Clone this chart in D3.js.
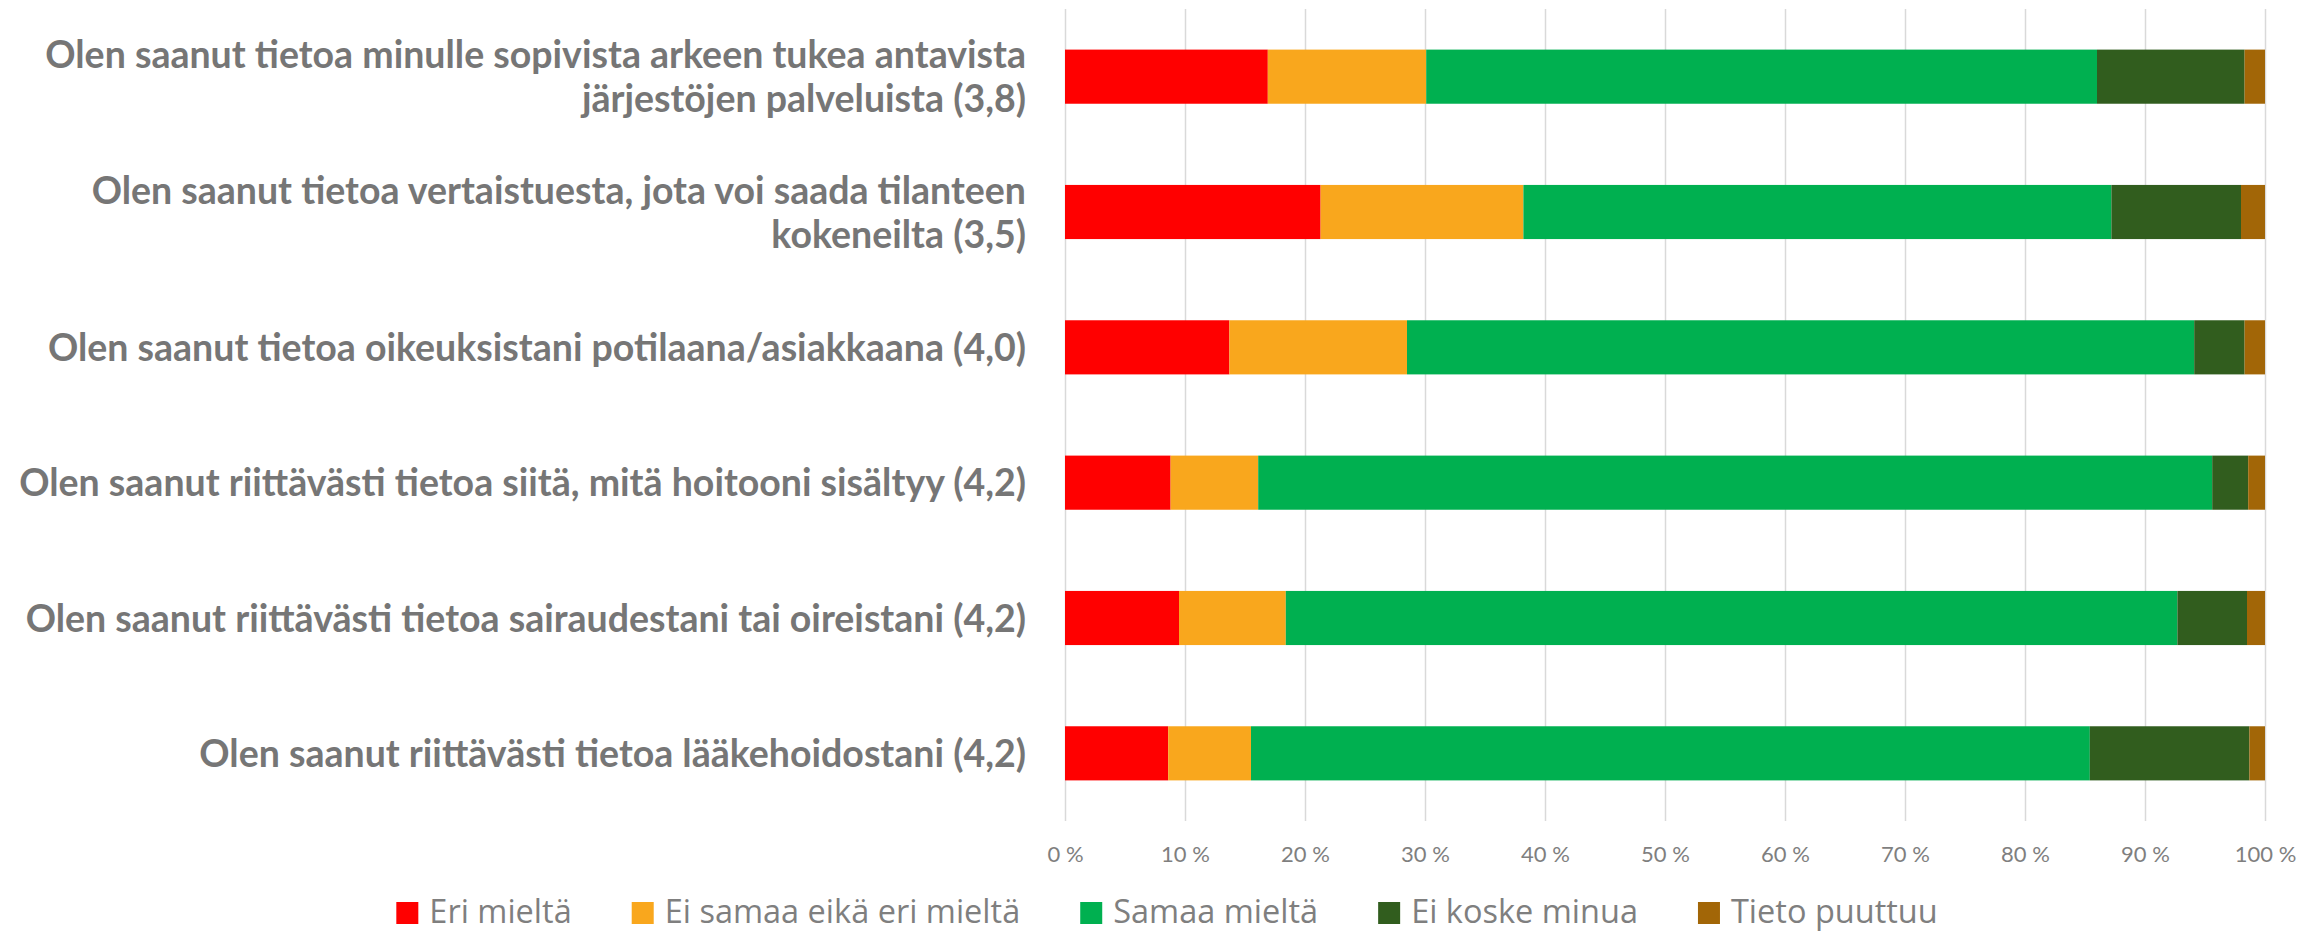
<!DOCTYPE html>
<html>
<head>
<meta charset="utf-8">
<script src="https://cdn.jsdelivr.net/npm/d3@7"></script>
<style>
  body { margin: 0; background: #fff; }
</style>
</head>
<body>
<div id="chart-container"></div>
<script>
"use strict"

// questions, top to bottom
const categories = [
  "Olen saanut tietoa minulle sopivista arkeen tukea antavista järjestöjen palveluista (3,8)",
  "Olen saanut tietoa vertaistuesta, jota voi saada tilanteen kokeneilta (3,5)",
  "Olen saanut tietoa oikeuksistani potilaana/asiakkaana (4,0)",
  "Olen saanut riittävästi tietoa siitä, mitä hoitooni sisältyy (4,2)",
  "Olen saanut riittävästi tietoa sairaudestani tai oireistani (4,2)",
  "Olen saanut riittävästi tietoa lääkehoidostani (4,2)"
];

const seriesNames = ["Eri mieltä", "Ei samaa eikä eri mieltä", "Samaa mieltä", "Ei koske minua", "Tieto puuttuu"];
const seriesColors = ["#ff0000", "#f9a71d", "#00b050", "#315d1e", "#a26607"];

// percentages per question
const eriMielta      = [16.9, 21.3, 13.7,  8.8,  9.5,  8.6];
const eiSamaaEikaEri = [13.2, 16.9, 14.8,  7.3,  8.9,  6.9];
const samaaMielta    = [55.9, 49.0, 65.6, 79.5, 74.3, 69.9];
const eiKoskeMinua   = [12.3, 10.8,  4.2,  3.0,  5.8, 13.3];
const tietoPuuttuu   = [ 1.7,  2.0,  1.7,  1.4,  1.5,  1.3];

const tickValues = [0, 10, 20, 30, 40, 50, 60, 70, 80, 90, 100];

document.addEventListener('DOMContentLoaded', function(){
  drawChart();
});

function drawChart(){
  let svgWidth = 2320;
  let svgHeight = 934;

  const seriesValues = [eriMielta, eiSamaaEikaEri, samaaMielta, eiKoskeMinua, tietoPuuttuu];
  let dataset = categories.map((c, i) => {
    let row = { category: c };
    seriesNames.forEach((s, j) => { row[s] = seriesValues[j][i]; });
    return row;
  });

  const svg = d3.select('#chart-container')
    .append('svg')
    .attr('width', svgWidth)
    .attr('height', svgHeight)
    .style('display', 'block');

  /***************************************
   SCALES
  ***************************************/
  let xScale = d3.scaleLinear()
    .domain([0, 100])
    .range([1065, 2265]);

  let yScale = d3.scaleBand()
    .domain(categories)
    .range([9, 821])
    .paddingInner(0.6)
    .paddingOuter(0.3);

  let color = d3.scaleOrdinal()
    .domain(seriesNames)
    .range(seriesColors);

  /***************************************
   GRID + AXIS
  ***************************************/
  const grid = svg.append('g')
    .attr('transform', 'translate(0,' + yScale.range()[1] + ')')
    .call(d3.axisBottom(xScale)
      .tickValues(tickValues)
      .tickSize(-(yScale.range()[1] - yScale.range()[0]))
      .tickFormat(''));
  grid.select('.domain').remove();
  grid.selectAll('line')
    .attr('stroke', '#d9d9d9')
    .attr('stroke-width', 1.5);

  const xAxis = svg.append('g')
    .attr('transform', 'translate(0,' + yScale.range()[1] + ')')
    .call(d3.axisBottom(xScale)
      .tickValues(tickValues)
      .tickSize(0)
      .tickPadding(25)
      .tickFormat(d => d + ' %'));
  xAxis.select('.domain').remove();
  xAxis.selectAll('text')
    .attr('fill', '#7f7f7f')
    .style('font-family', 'Lato, sans-serif')
    .style('font-size', '22px');

  /***************************************
   BARS
  ***************************************/
  let stacked = d3.stack().keys(seriesNames)(dataset);

  svg.append('g')
    .selectAll('g')
    .data(stacked)
    .enter()
    .append('g')
    .attr('fill', d => color(d.key))
    .selectAll('rect')
    .data(d => d)
    .enter()
    .append('rect')
    .attr('x', d => xScale(d[0]))
    .attr('y', d => yScale(d.data.category))
    .attr('width', d => xScale(d[1]) - xScale(d[0]))
    .attr('height', yScale.bandwidth());

  /***************************************
   CATEGORY LABELS (wrapped)
  ***************************************/
  let labelRight = 1026;
  let lineGap = 44;
  let labels = svg.append('g')
    .selectAll('text')
    .data(categories)
    .enter()
    .append('text')
    .attr('text-anchor', 'end')
    .attr('fill', '#767676')
    .style('font-family', 'Lato, sans-serif')
    .style('font-weight', 'bold')
    .style('font-size', '37.5px');

  labels.each(function(d){
    let text = d3.select(this);
    let words = d.split(' ');
    let lines = [];
    let line = [];
    let probe = text.append('tspan');
    words.forEach(w => {
      line.push(w);
      probe.text(line.join(' '));
      if (probe.node().getComputedTextLength() > 1060 && line.length > 1) {
        line.pop();
        lines.push(line.join(' '));
        line = [w];
      }
    });
    lines.push(line.join(' '));
    probe.remove();

    let cy = yScale(d) + yScale.bandwidth() / 2;
    lines.forEach((l, i) => {
      text.append('tspan')
        .attr('x', labelRight)
        .attr('y', cy + (i - (lines.length - 1) / 2) * lineGap)
        .attr('dy', '0.36em')
        .text(l);
    });
  });

  /***************************************
   LEGEND
  ***************************************/
  let swatch = 22;
  let itemGap = 60;
  let legend = svg.append('g');
  let items = legend.selectAll('g')
    .data(seriesNames)
    .enter()
    .append('g');

  items.append('rect')
    .attr('y', 902)
    .attr('width', swatch)
    .attr('height', swatch)
    .attr('fill', d => color(d));

  items.append('text')
    .attr('x', swatch + 11)
    .attr('y', 923)
    .attr('fill', '#7f7f7f')
    .style('font-family', '"Open Sans", sans-serif')
    .style('font-size', '32.5px')
    .text(d => d);

  let xPos = 0;
  items.each(function(){
    let w = swatch + 11 + d3.select(this).select('text').node().getComputedTextLength();
    d3.select(this).attr('transform', 'translate(' + xPos + ',0)');
    xPos += w + itemGap;
  });
  let legendWidth = xPos - itemGap;
  legend.attr('transform', 'translate(' + (1167 - legendWidth / 2) + ',0)');
}
</script>
</body>
</html>
